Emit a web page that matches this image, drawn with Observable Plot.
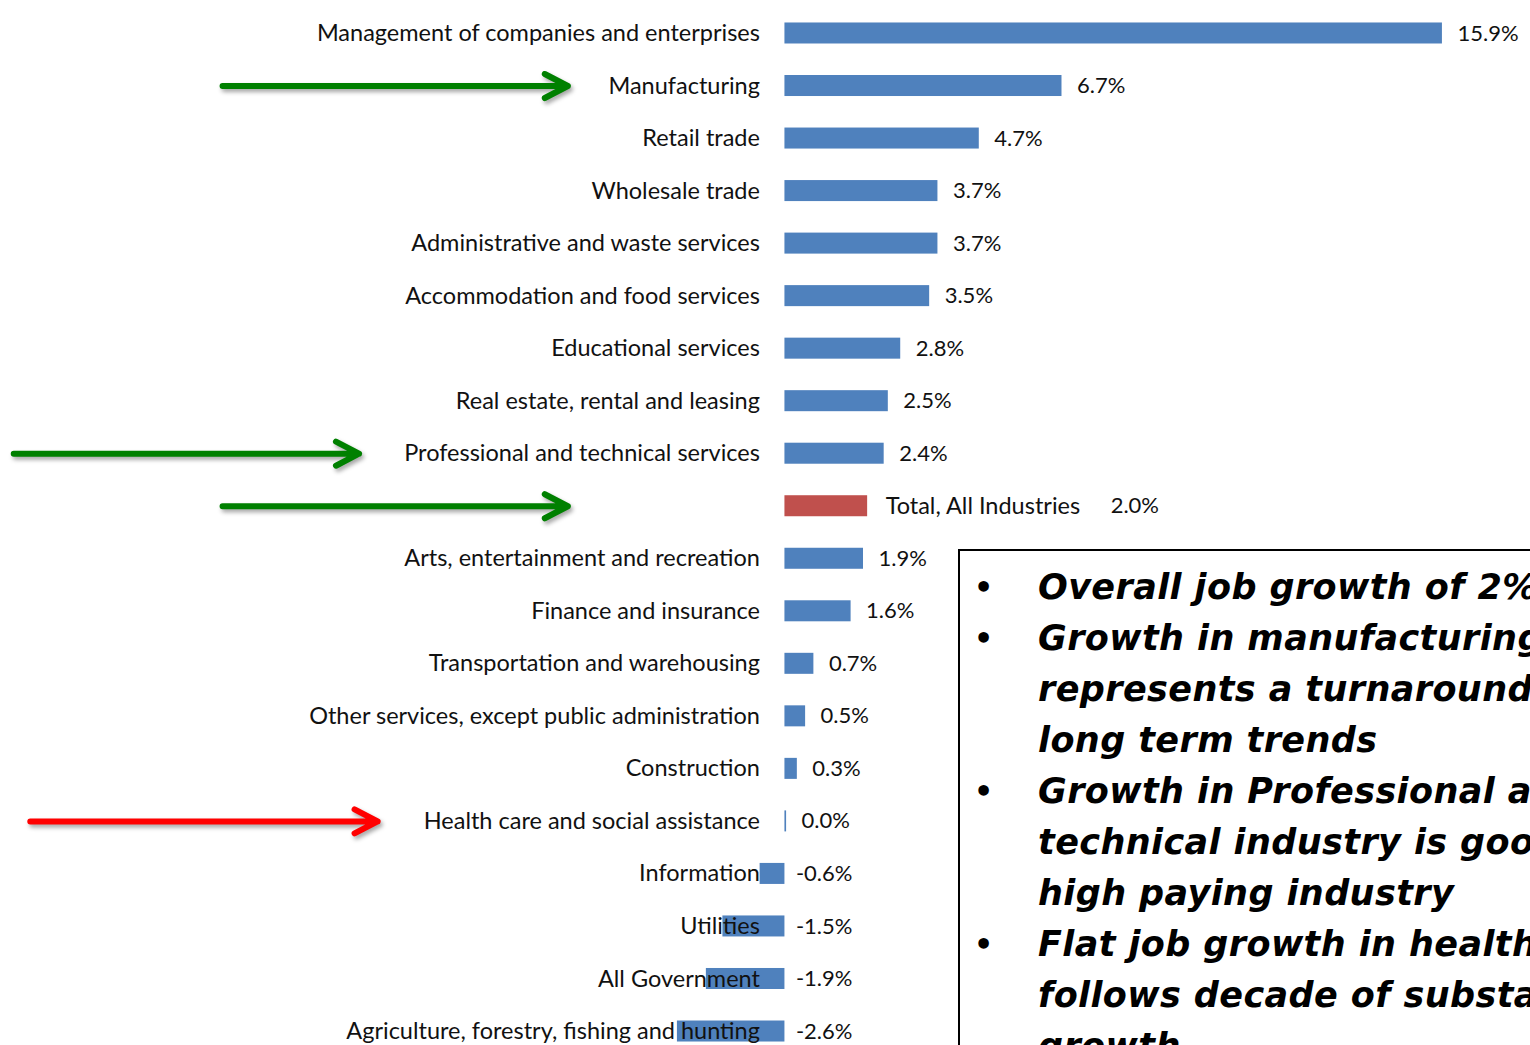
<!DOCTYPE html>
<html><head><meta charset="utf-8">
<script src="https://cdn.jsdelivr.net/npm/d3@7"></script>
<script src="https://cdn.jsdelivr.net/npm/@observablehq/plot@0.6"></script>
<style>
html,body{margin:0;padding:0;overflow:hidden;background:#fff;}
#wrap{position:relative;width:1530px;height:1045px;overflow:hidden;}
#note{position:absolute;left:958px;top:549px;width:760px;height:620px;border:2px solid #000;box-sizing:border-box;background:#fff;
  font-family:"DejaVu Sans",sans-serif;font-weight:bold;font-style:italic;font-size:35px;letter-spacing:0.4px;line-height:51px;color:#000;padding-top:11px;white-space:nowrap;}
#note .item{position:relative;padding-left:78px;}
#note .item::before{content:"•";position:absolute;left:14px;top:0;font-style:normal;font-size:30px;}
g[aria-label="arrow"]{filter:drop-shadow(2px 3px 2px rgba(0,0,0,0.35));}
</style>
</head><body>
<div id="wrap"><div id="chart"></div>
<div id="note"></div></div>
<script>
const categories = [
  "Management of companies and enterprises",
  "Manufacturing",
  "Retail trade",
  "Wholesale trade",
  "Administrative and waste services",
  "Accommodation and food services",
  "Educational services",
  "Real estate, rental and leasing",
  "Professional and technical services",
  "Total, All Industries",
  "Arts, entertainment and recreation",
  "Finance and insurance",
  "Transportation and warehousing",
  "Other services, except public administration",
  "Construction",
  "Health care and social assistance",
  "Information",
  "Utilities",
  "All Government",
  "Agriculture, forestry, fishing and hunting"
];
const values = [15.9, 6.7, 4.7, 3.7, 3.7, 3.5, 2.8, 2.5, 2.4, 2.0, 1.9, 1.6, 0.7, 0.5, 0.3, 0.04, -0.6, -1.5, -1.9, -2.6];
const totalName = "Total, All Industries";

// annotation arrows (category row, start and end in % units)
const arrowCats = ["Manufacturing", "Professional and technical services", "Total, All Industries", "Health care and social assistance"];
const arrowFrom = [-13.6, -18.65, -13.6, -18.25];
const arrowTo = [-5.25, -10.3, -5.25, -9.85];
const arrowKinds = ["up", "up", "up", "down"];

const noteItems = [
  ["Overall job growth of 2%"],
  ["Growth in manufacturing", "represents a turnaround in", "long term trends"],
  ["Growth in Professional and", "technical industry is good,", "high paying industry"],
  ["Flat job growth in healthcare", "follows decade of substantial", "growth"]
];

const rows = categories.map((c, i) => ({cat: c, value: values[i]}));
const arrows = arrowCats.map((c, i) => ({cat: c, from: arrowFrom[i], to: arrowTo[i], kind: arrowKinds[i]}));

const BLUE = "#4F81BD", RED = "#C0504D";
const fmt = v => v.toFixed(1) + "%";

const plot = Plot.plot({
  width: 1530,
  height: 1045,
  marginLeft: 0, marginRight: 0, marginTop: 0, marginBottom: 0,
  style: {fontFamily: "Lato, 'Liberation Sans', sans-serif", background: "#fff"},
  x: {domain: [-18.97, 18.03], axis: null},
  y: {domain: categories, range: [0, 1064], paddingInner: 0.6, paddingOuter: 0.428, round: false, axis: null},
  marks: [
    Plot.barX(rows, {x: "value", y: "cat", fill: d => d.cat === totalName ? RED : BLUE}),
    Plot.ruleX([0], {stroke: "#9a9a9a", strokeWidth: 2, y1: categories[0], y2: categories[categories.length - 1], insetTop: -28, insetBottom: -30}),
    Plot.text(rows.filter(d => d.cat !== totalName), {x: 0, y: "cat", text: "cat", textAnchor: "end", dx: -25, fontSize: 23.5, fill: "#111"}),
    Plot.text(rows.filter(d => d.value >= 0 && d.cat !== totalName), {x: "value", y: "cat", text: d => fmt(d.value), textAnchor: "start", dx: 15, fontSize: 22, fill: "#111"}),
    Plot.text(rows.filter(d => d.value < 0), {x: 0, y: "cat", text: d => fmt(d.value), textAnchor: "start", dx: 11, fontSize: 22, fill: "#111"}),
    Plot.text(rows.filter(d => d.cat === totalName), {x: "value", y: "cat", text: "cat", textAnchor: "start", dx: 18, fontSize: 23.5, fill: "#111"}),
    Plot.text(rows.filter(d => d.cat === totalName), {x: "value", y: "cat", text: d => fmt(d.value), textAnchor: "start", dx: 243, fontSize: 22, fill: "#111"}),
    Plot.arrow(arrows, {x1: "from", x2: "to", y1: "cat", y2: "cat", stroke: d => d.kind === "up" ? "#008000" : "#FF0000", strokeWidth: 6, headLength: 6.5, headAngle: 55, strokeLinecap: "round", strokeLinejoin: "round"})
  ]
});
document.getElementById("chart").appendChild(plot);

const note = document.getElementById("note");
noteItems.forEach(lines => {
  const d = document.createElement("div");
  d.className = "item";
  d.innerHTML = lines.map(l => l.replace(/&/g, "&amp;")).join("<br>");
  note.appendChild(d);
});
</script>
</body></html>
